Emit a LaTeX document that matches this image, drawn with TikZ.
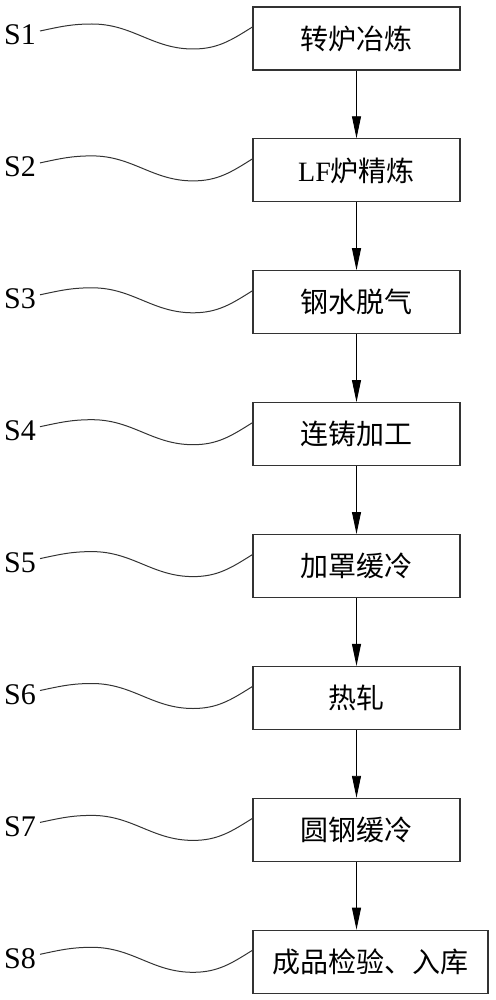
\documentclass[tikz,border=0pt]{standalone}
\usepackage{fontspec}
\setmainfont{Liberation Serif}
\newfontfamily\cjk{Noto Sans CJK SC}
\usetikzlibrary{arrows.meta}

\begin{document}
\begin{tikzpicture}[x=1pt, y=1pt,
  box/.style={draw=black!80, line width=1.2pt, minimum width=207pt, minimum height=63pt, inner sep=0pt,
              font=\fontsize{28}{32}\selectfont\cjk},
  tag/.style={font=\fontsize{30}{32}\selectfont, inner sep=0pt},
  lead/.style={black!80, line width=1pt},
  flow/.style={-{Triangle[length=22pt,width=9pt]}, black, line width=0.9pt}]
  \useasboundingbox (0,0) rectangle (495,-1000);
  % process steps
  \node[box] (conv)  at (356.5,-38.5)  {转炉冶炼};
  \node[box] (lf)    at (356.5,-170.4) {{\rmfamily LF}炉精炼};
  \node[box] (degas) at (356.5,-302.3) {钢水脱气};
  \node[box] (cast)  at (356.5,-434.2) {连铸加工};
  \node[box] (hood)  at (356.5,-566.1) {加罩缓冷};
  \node[box] (roll)  at (356.5,-698.0) {热轧};
  \node[box] (cool)  at (356.5,-829.9) {圆钢缓冷};
  \node[box, minimum width=235pt] (store) at (370.5,-961.8) {成品检验、入库};
  % step tags
  \node[tag] (s1) at (20,-35.0)  {S1};
  \node[tag] (s2) at (20,-166.9) {S2};
  \node[tag] (s3) at (20,-298.8) {S3};
  \node[tag] (s4) at (20,-430.7) {S4};
  \node[tag] (s5) at (20,-562.6) {S5};
  \node[tag] (s6) at (20,-694.5) {S6};
  \node[tag] (s7) at (20,-826.4) {S7};
  \node[tag] (s8) at (20,-958.3) {S8};
  % leader curves
  \draw[lead] ([shift={(4,4)}]s1.east) to[out=12,in=180] ++(52,7) to[out=0,in=180] ++(101,-25) to[out=0,in=212] ([yshift=11.5]conv.west);
  \draw[lead] ([shift={(4,4)}]s2.east) to[out=12,in=180] ++(52,7) to[out=0,in=180] ++(101,-25) to[out=0,in=212] ([yshift=11.5]lf.west);
  \draw[lead] ([shift={(4,4)}]s3.east) to[out=12,in=180] ++(52,7) to[out=0,in=180] ++(101,-25) to[out=0,in=212] ([yshift=11.5]degas.west);
  \draw[lead] ([shift={(4,4)}]s4.east) to[out=12,in=180] ++(52,7) to[out=0,in=180] ++(101,-25) to[out=0,in=212] ([yshift=11.5]cast.west);
  \draw[lead] ([shift={(4,4)}]s5.east) to[out=12,in=180] ++(52,7) to[out=0,in=180] ++(101,-25) to[out=0,in=212] ([yshift=11.5]hood.west);
  \draw[lead] ([shift={(4,4)}]s6.east) to[out=12,in=180] ++(52,7) to[out=0,in=180] ++(101,-25) to[out=0,in=212] ([yshift=11.5]roll.west);
  \draw[lead] ([shift={(4,4)}]s7.east) to[out=12,in=180] ++(52,7) to[out=0,in=180] ++(101,-25) to[out=0,in=212] ([yshift=11.5]cool.west);
  \draw[lead] ([shift={(4,4)}]s8.east) to[out=12,in=180] ++(52,7) to[out=0,in=180] ++(101,-25) to[out=0,in=212] ([yshift=11.5]store.west);
  % flow arrows
  \draw[flow] (conv)  -- (lf);
  \draw[flow] (lf)    -- (degas);
  \draw[flow] (degas) -- (cast);
  \draw[flow] (cast)  -- (hood);
  \draw[flow] (hood)  -- (roll);
  \draw[flow] (roll)  -- (cool);
  \draw[flow] (cool.south) -- (cool.south |- store.north);
\end{tikzpicture}
\end{document}
